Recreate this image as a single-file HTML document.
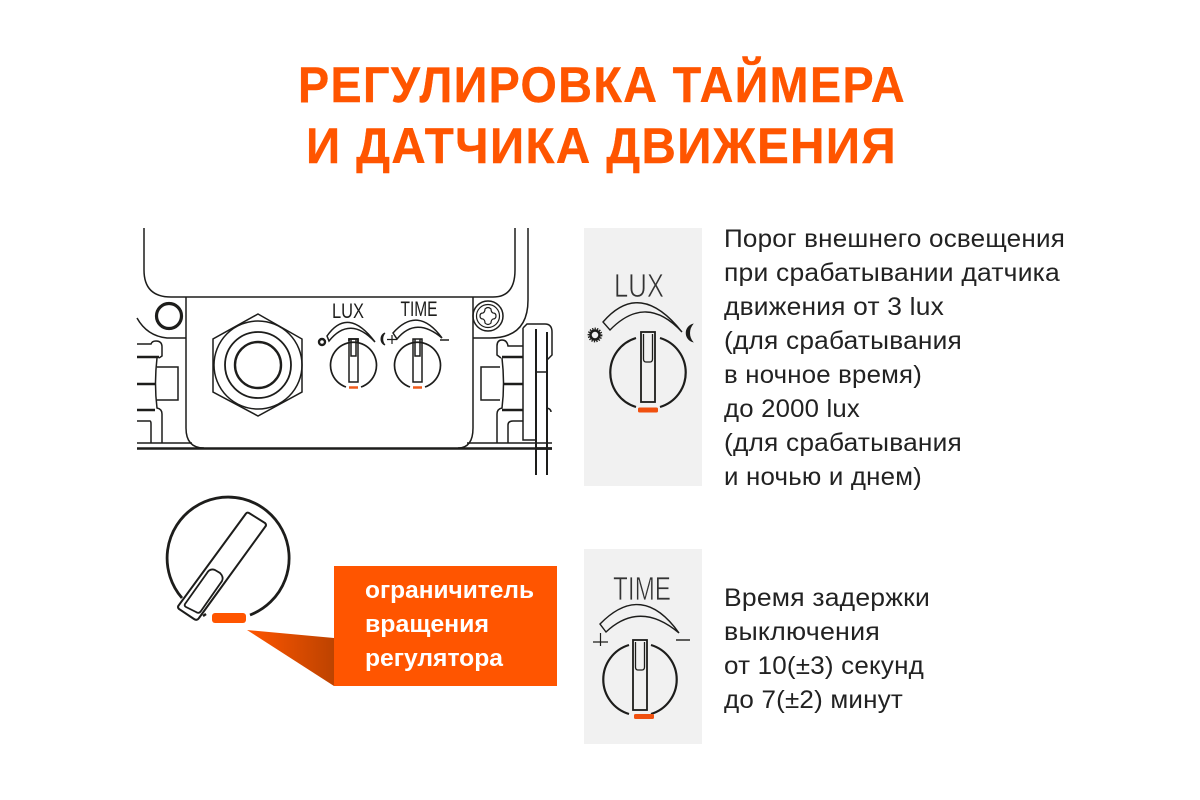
<!DOCTYPE html>
<html><head><meta charset="utf-8"><style>
html,body{margin:0;padding:0;background:#fff;width:1200px;height:800px;overflow:hidden}
svg{display:block}
.t{font-family:"Liberation Sans",sans-serif;font-weight:700;font-size:50px;fill:#ff5500;stroke:#ff5500;stroke-width:.4;letter-spacing:1.500px}
.b{font-family:"Liberation Sans",sans-serif;font-size:25px;fill:#222;letter-spacing:.2px}
.o{font-family:"Liberation Sans",sans-serif;font-weight:700;font-size:24px;fill:#fff}
.l{fill:none;stroke:#1d1d1b;stroke-width:1.5;stroke-linecap:butt}
.h{fill:none;stroke:#1d1d1b;stroke-width:2.4}
.s{font-family:"Liberation Sans",sans-serif;fill:#333}
</style></head><body>
<svg width="1200" height="800" viewBox="0 0 1200 800" xmlns="http://www.w3.org/2000/svg">
<defs><linearGradient id="g" x1="247" y1="0" x2="334" y2="0" gradientUnits="userSpaceOnUse"><stop offset="0" stop-color="#ff5500"/><stop offset="1" stop-color="#bd4300"/></linearGradient></defs>
<rect width="1200" height="800" fill="#fff"/>
<text class="t" x="298" y="102" textLength="608" lengthAdjust="spacingAndGlyphs">РЕГУЛИРОВКА ТАЙМЕРА</text>
<text class="t" x="306" y="163" textLength="591" lengthAdjust="spacingAndGlyphs">И ДАТЧИКА ДВИЖЕНИЯ</text>

<!-- device -->
<path class="l" d="M144 228V270Q144 297 171 297H493Q515 297 515 270V228"/>
<path class="l" d="M528 228V300Q528 338 490 338H473"/>
<path class="l" d="M186 297V428Q186 448 204 448"/>
<path class="l" d="M473 297V428Q473 448 458 448"/>
<path d="M137 448.500H552" stroke="#1d1d1b" stroke-width="2.600" fill="none"/>
<path class="l" d="M137 443H192M467 443H552"/>
<path class="l" d="M186 338H167Q147 336 137 318"/>
<circle cx="169" cy="316" r="12.500" fill="none" stroke="#1d1d1b" stroke-width="3.200"/>
<circle cx="488" cy="316" r="15" class="l"/>
<circle cx="488" cy="316" r="11.500" class="l" style="stroke-width:1.200"/>
<path class="l" style="stroke-width:1.200" d="M485 309Q488 306 491 309Q491 312 493 313Q496 313 496 316Q496 319 493 319Q491 320 491 323Q488 326 485 323Q485 320 483 319Q480 319 480 316Q480 313 483 313Q485 312 485 309Z"/>
<!-- left hardware -->
<path class="l" d="M137 344H151Q152 341 156 341Q162 341 162 347V356L159 358"/>
<path d="M137 357H159M137 384H156M137 410H155" stroke="#1d1d1b" stroke-width="2.400" fill="none"/>
<path class="l" d="M157 367H178V400H157M157 358Q154 384 157 408Q162 409 162 414V443M137 421H150Q151 421 151 424V443"/>
<!-- right hardware -->
<path class="l" d="M523 346H508Q507 340 502 340Q497 340 497 346V355L501 358M502 358Q505 384 502 408Q497 409 497 414V443M500 367H481V400H500M508 443V425Q508 421 513 421H523"/>
<path d="M502 357H523M503 384H523M502 410H523" stroke="#1d1d1b" stroke-width="2.400" fill="none"/>
<path class="l" d="M523 328V440H536M523 328L527 324H545Q552 324 552 332V355L547 360M536 372H547M547 408Q551 409 551 412"/>
<path d="M536 329V475M547 332V475" stroke="#1d1d1b" stroke-width="2" fill="none"/>
<path d="M536 448.500H552" stroke="#1d1d1b" stroke-width="2.600"/>
<!-- nut -->
<path class="l" d="M258 314L302 339V392L258 416L213 392V339Z"/>
<circle cx="258" cy="365" r="44" class="l"/>
<circle cx="258" cy="365" r="33" class="h" style="stroke-width:1.800"/>
<circle cx="258" cy="365" r="23" class="h"/>
<!-- small LUX -->
<path class="h" style="stroke-width:1.700" d="M346 387A23 23 0 1 1 361 387M349 341V339H358V342"/>
<path class="l" d="M349 339H358V382H349ZM351 339V356H356V339"/>
<path d="M349 387.500H358" stroke="#f05a1a" stroke-width="2.500"/>
<text class="s" x="348" y="318" font-size="21" text-anchor="middle" textLength="32" lengthAdjust="spacingAndGlyphs" style="fill:#1d1d1b">LUX</text>
<path class="l" d="M327 336Q348 306 375 342Q350 315 329 341Z"/>
<circle cx="322" cy="342" r="3" fill="none" stroke="#1d1d1b" stroke-width="2.400"/>
<path d="M385 333A6.500 6.500 0 0 0 385 345A9 9 0 0 1 385 333Z" fill="#1d1d1b" stroke="#1d1d1b"/>
<!-- small TIME -->
<path class="h" style="stroke-width:1.700" d="M410 387A23 23 0 1 1 425 387"/>
<path class="l" d="M413 339H422V382H413ZM415 339V356H420V339"/>
<path d="M413 387.500H422" stroke="#f05a1a" stroke-width="2.500"/>
<text class="s" x="419" y="316" font-size="21" text-anchor="middle" textLength="37" lengthAdjust="spacingAndGlyphs" style="fill:#1d1d1b">TIME</text>
<path class="l" d="M393 333Q418 305 442 338Q416 316 397 339Z"/>
<path class="l" d="M392 335V344M387 339.500H397" style="stroke-width:1.200"/>
<path d="M440 340H449" stroke="#1d1d1b" stroke-width="1.500"/>

<!-- big knob -->
<path d="M182 598A61 61 0 1 1 250 615" fill="none" stroke="#1d1d1b" stroke-width="2.800"/>
<path d="M206 614L203 616" stroke="#1d1d1b" stroke-width="2.500"/>
<path d="M246 513.500Q247 512 249 513L265 523Q267 525 265 527L199 618Q197 621 194 619L179 609Q177 607 179 605Z" fill="none" stroke="#1d1d1b" stroke-width="2"/>
<path d="M185 604L207 573Q210 568 215 570L220 573Q224 577 222 581L201 611Q199 614 196 612L186 607Q184 606 185 604Z" fill="none" stroke="#1d1d1b" stroke-width="1.800"/>
<rect x="212" y="613" width="34" height="10" rx="3" fill="#ff5500"/>
<path d="M247 630L334 638V686Z" fill="url(#g)"/>
<rect x="334" y="566" width="223" height="120" fill="#ff5500"/>
<text class="o" x="365" y="598" textLength="169" lengthAdjust="spacingAndGlyphs">ограничитель</text>
<text class="o" x="365" y="632" textLength="124" lengthAdjust="spacingAndGlyphs">вращения</text>
<text class="o" x="365" y="666" textLength="138" lengthAdjust="spacingAndGlyphs">регулятора</text>

<!-- LUX panel -->
<rect x="584" y="228" width="118" height="258" fill="#f1f1f1"/>
<text class="s" x="614" y="297" font-size="33" textLength="50" lengthAdjust="spacingAndGlyphs" stroke="#f1f1f1" stroke-width="0.700">LUX</text>
<path class="l" d="M603 322Q640 279 682 332Q646 293 610 330Z" style="stroke-width:1.400"/>
<circle cx="595" cy="335" r="4.500" fill="none" stroke="#1d1d1b" stroke-width="2.500"/>
<circle cx="595" cy="335" r="6.500" fill="none" stroke="#1d1d1b" stroke-width="1.800" stroke-dasharray="1.300 1.200"/>
<path d="M693 324A9.300 9.300 0 0 0 693 342A14 14 0 0 1 693 324Z" fill="#1d1d1b" stroke="#1d1d1b" stroke-width=".6"/>
<path d="M636 407A36 36 0 0 1 636 338M660 338A36 36 0 0 1 660 407" fill="none" stroke="#1d1d1b" stroke-width="2.200"/>
<rect x="641" y="332" width="14" height="70" fill="#f1f1f1" stroke="#1d1d1b" stroke-width="1.800"/>
<path d="M643.500 334V359Q643.500 362 646 362H650Q652.500 362 652.500 359V334" fill="none" stroke="#1d1d1b" stroke-width="1.300"/>
<rect x="638" y="407.500" width="20" height="5" rx="1.500" fill="#f0500f"/>

<!-- TIME panel -->
<rect x="584" y="549" width="118" height="195" fill="#f1f1f1"/>
<text class="s" x="613" y="600" font-size="33" textLength="58" lengthAdjust="spacingAndGlyphs" stroke="#f1f1f1" stroke-width="0.700">TIME</text>
<path class="l" d="M600 624Q642 581 679 633Q640 600 606 632Z" style="stroke-width:1.400"/>
<path d="M593 642H608M600.500 633V646" stroke="#1d1d1b" stroke-width="1.200" fill="none"/>
<path d="M676 640H690" stroke="#1d1d1b" stroke-width="1.400"/>
<path d="M629 714A36 36 0 0 1 629 645M651 645A36 36 0 0 1 651 714" fill="none" stroke="#1d1d1b" stroke-width="2.200"/>
<rect x="633" y="640" width="14" height="70" fill="#f1f1f1" stroke="#1d1d1b" stroke-width="1.800"/>
<path d="M635.500 642V667Q635.500 670 638 670H642Q644.500 670 644.500 667V642" fill="none" stroke="#1d1d1b" stroke-width="1.300"/>
<rect x="634" y="714" width="20" height="5" rx="1.500" fill="#f0500f"/>

<!-- body -->
<text class="b" x="724" y="247" textLength="341" lengthAdjust="spacingAndGlyphs">Порог внешнего освещения</text>
<text class="b" x="724" y="281" textLength="336" lengthAdjust="spacingAndGlyphs">при срабатывании датчика</text>
<text class="b" x="724" y="315" textLength="220" lengthAdjust="spacingAndGlyphs">движения от 3 lux</text>
<text class="b" x="724" y="349" textLength="238" lengthAdjust="spacingAndGlyphs">(для срабатывания</text>
<text class="b" x="724" y="383" textLength="198" lengthAdjust="spacingAndGlyphs">в ночное время)</text>
<text class="b" x="724" y="417" textLength="136" lengthAdjust="spacingAndGlyphs">до 2000 lux</text>
<text class="b" x="724" y="451" textLength="238" lengthAdjust="spacingAndGlyphs">(для срабатывания</text>
<text class="b" x="724" y="485" textLength="198" lengthAdjust="spacingAndGlyphs">и ночью и днем)</text>
<text class="b" x="724" y="606" textLength="206" lengthAdjust="spacingAndGlyphs">Время задержки</text>
<text class="b" x="724" y="640" textLength="156" lengthAdjust="spacingAndGlyphs">выключения</text>
<text class="b" x="724" y="674" textLength="200" lengthAdjust="spacingAndGlyphs">от 10(±3) секунд</text>
<text class="b" x="724" y="708" textLength="179" lengthAdjust="spacingAndGlyphs">до 7(±2) минут</text>
</svg>
</body></html>
